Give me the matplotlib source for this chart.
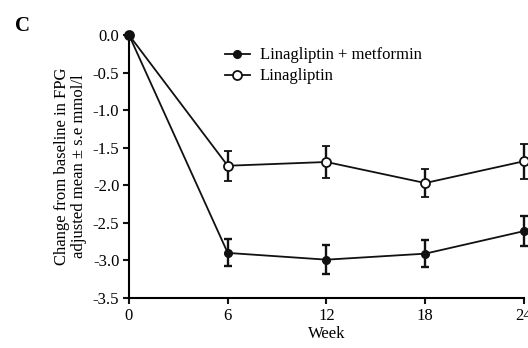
import numpy as np
import matplotlib.pyplot as plt
from matplotlib.lines import Line2D

plt.rcParams['font.family'] = ['Liberation Serif', 'DejaVu Serif']

weeks = [0, 6, 12, 18, 24]
lina_met = [0.0, -2.90, -2.99, -2.91, -2.61]
lina_met_se = [0.0, 0.18, 0.19, 0.18, 0.20]
lina = [0.0, -1.74, -1.69, -1.97, -1.68]
lina_se = [0.0, 0.20, 0.21, 0.19, 0.23]

fig = plt.figure(figsize=(5.28, 3.48), dpi=100)
ax = fig.add_axes([0.2443, 0.1437, 0.7480, 0.7557])

# open circles first so the filled one sits on top at week 0
ax.errorbar(weeks, lina, yerr=lina_se, color='#111111', lw=1.3,
            marker='o', ms=6.5, mfc='white', mec='#111111', mew=1.3,
            capsize=3.2, elinewidth=1.7, capthick=1.7, clip_on=False, zorder=3)
ax.errorbar(weeks, lina_met, yerr=lina_met_se, color='#111111', lw=1.3,
            marker='o', ms=5.5, mfc='#111111', mec='#111111',
            capsize=3.2, elinewidth=1.7, capthick=1.7, clip_on=False, zorder=4)

ax.set_xlim(0, 24)
ax.set_ylim(-3.5, 0)
ax.set_xticks(weeks)
ax.set_yticks(np.arange(0, -3.51, -0.5))
ax.set_yticklabels(['%.1f' % v for v in np.arange(0, -3.51, -0.5)])
for s in ['top', 'right']:
    ax.spines[s].set_visible(False)
for s in ['left', 'bottom']:
    ax.spines[s].set_linewidth(1.5)
ax.tick_params(width=1.5, length=4, labelsize=12, color='#111111', pad=3)
ax.set_xlabel('Week', fontsize=12, labelpad=2)
ax.set_ylabel('Change from baseline in FPG\nadjusted mean \u00b1 s.e mmol/l',
              fontsize=12, labelpad=4, linespacing=1.1)

handles = [
    Line2D([], [], color='#111111', lw=1.3, marker='o', ms=5.5,
           mfc='#111111', mec='#111111'),
    Line2D([], [], color='#111111', lw=1.3, marker='o', ms=6.5,
           mfc='white', mec='#111111', mew=1.3),
]
ax.legend(handles, ['Linagliptin + metformin', 'Linagliptin'],
          loc='upper left', bbox_to_anchor=(0.205, 1.01), frameon=False,
          fontsize=12, handlelength=1.5, handletextpad=0.6,
          labelspacing=0.3)

fig.text(0.028, 0.91, 'C', fontsize=15, fontweight='bold')

fig.savefig('out.png', dpi=100)
